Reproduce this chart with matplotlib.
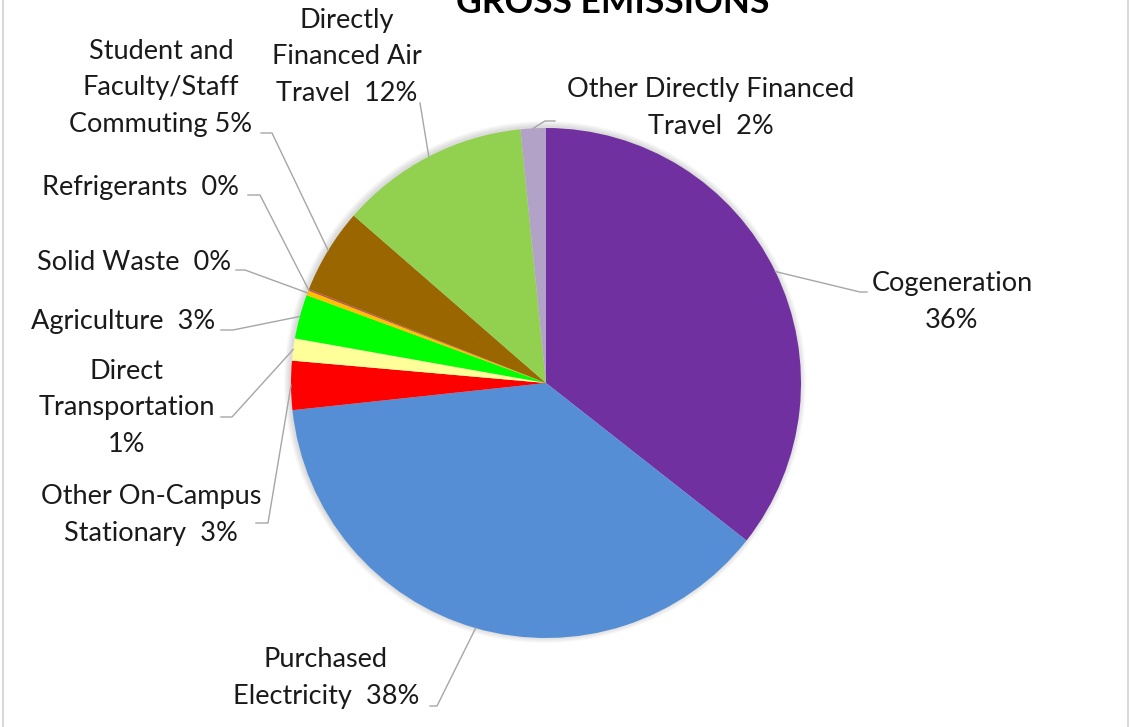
import numpy as np
import matplotlib
matplotlib.use("Agg")
import matplotlib.pyplot as plt
from matplotlib.patches import Circle, Rectangle

plt.rcParams['font.family'] = ['Lato', 'DejaVu Sans']

# slices, clockwise from 12 o'clock
categories = ["Cogeneration", "Purchased Electricity", "Other On-Campus Stationary",
              "Direct Transportation", "Agriculture", "Solid Waste", "Refrigerants",
              "Student and Faculty/Staff Commuting", "Directly Financed Air Travel",
              "Other Directly Financed Travel"]
shares = [35.6, 37.7, 3.1, 1.4, 2.8, 0.3, 0.1, 5.4, 12.0, 1.6]
label_names = ["Cogeneration\n", "Purchased\nElectricity  ", "Other On-Campus\nStationary  ",
               "Direct\nTransportation\n", "Agriculture  ", "Solid Waste  ", "Refrigerants  ",
               "Student and\nFaculty/Staff\nCommuting ", "Directly\nFinanced Air\nTravel  ",
               "Other Directly Financed\nTravel  "]
colors = ["#7030A0", "#558ED5", "#FF0000", "#FFFF99", "#00FF00", "#FFC000", "#C0504D",
          "#996600", "#92D050", "#B3A2C7"]

W, H = 1130, 727


def Y(py):
    return H - py


# label placement in pixels: text centre, elbow point, line end near text
label_pos = [(952, 302), (326, 678), (151, 515), (127, 408), (123, 321), (134, 262),
             (140, 187), (161, 88), (347, 57), (711, 108)]
elbows = [(860, 292), (437, 706), (268, 523), (232, 417), (233, 330), (245, 270),
          (260, 195), (272, 133), (420, 103), (545, 121)]
line_ends = [(867, 292), (430, 706), (256, 523), (221, 417), (221, 330), (236, 270),
             (248, 195), (261, 133), (420, 103), (555, 121)]

cx, cy, r = 546, 383, 255

fig = plt.figure(figsize=(W / 100, H / 100), dpi=100)
ax = fig.add_axes([0, 0, 1, 1])

ax.add_patch(Rectangle((3, -5), 1125, H + 10, fill=False, edgecolor='#D9D9D9', lw=1.5))

# soft shadow
for k in range(6):
    ax.add_patch(Circle((cx - 1, Y(cy) + 1), r + 1 + k, color='#000000', alpha=0.025, lw=0))

wedges, _ = ax.pie(shares, colors=colors, startangle=90, counterclock=False,
                   center=(cx, Y(cy)), radius=r, frame=True,
                   wedgeprops=dict(linewidth=0))
ax.set_xlim(0, W)
ax.set_ylim(0, H)
ax.set_aspect('equal')
ax.axis('off')

for w, name, v, pos, el, end in zip(wedges, label_names, shares, label_pos, elbows, line_ends):
    ang = np.deg2rad((w.theta1 + w.theta2) / 2)
    sx = cx + r * np.cos(ang)
    sy = Y(cy) + r * np.sin(ang)
    ax.plot([sx, el[0], end[0]], [sy, Y(el[1]), Y(end[1])], color='#A6A6A6', lw=1)
    ax.text(pos[0], Y(pos[1]), f"{name}{round(v)}%", ha='center', va='center',
            fontsize=19.5, linespacing=1.56, color='#1a1a1a')

ax.text(613, Y(13), "GROSS EMISSIONS", ha='center', va='baseline', fontsize=25.5,
        fontweight='bold', color='black')

fig.savefig("out.png", dpi=100)
